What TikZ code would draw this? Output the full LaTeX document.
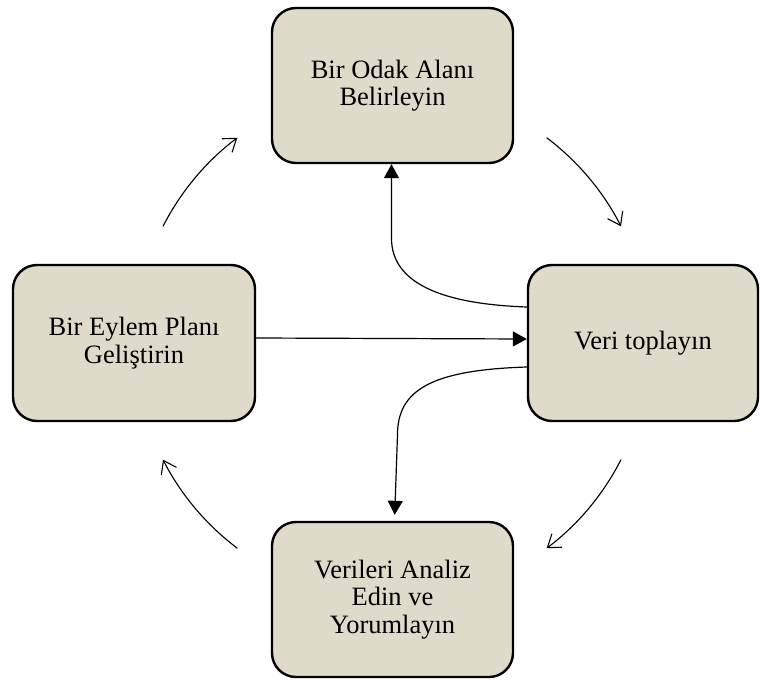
\documentclass[tikz,border=0pt]{standalone}
\usepackage{fontspec}
\setmainfont{Liberation Serif}
\usetikzlibrary{arrows.meta,calc}
\definecolor{boxfill}{RGB}{222,219,202}
\begin{document}
\begin{tikzpicture}[x=1pt,y=-1pt,
  stagebox/.style={draw=black, line width=2.4pt, fill=boxfill, rounded corners=24pt,
    minimum width=241pt, minimum height=155pt, align=center, inner sep=0pt,
    font=\fontsize{26.5}{27.4}\selectfont},
  link/.style={line width=1.2pt, -{Triangle[length=14pt,width=15pt]}},
  cyclearrow/.style={line width=1.1pt, -{Straight Barb[length=12pt,width=17pt,line width=1.1pt]}}]
  \useasboundingbox (0,0) rectangle (760,680);

  % the four stages
  \node[stagebox] (T) at (392.5,85.5) {Bir Odak Alanı\\Belirleyin};
  \node[stagebox, minimum width=230pt, minimum height=156pt] (R) at (643,343) {Veri toplayın};
  \node[stagebox, minimum width=242pt, minimum height=156pt] (L) at (134,343) {Bir Eylem Planı\\Geliştirin};
  \node[stagebox] (B) at (392.5,599.5) {Verileri Analiz\\Edin ve\\Yorumlayın};

  % links between the stages
  \draw[link] ([yshift=5pt]L.east) -- ([yshift=4pt]R.west);
  \draw[link] ([yshift=36pt]R.west) .. controls +(-85,-3) and +(0,45) .. ($(T.south)+(-1,74)$) -- ([xshift=-1pt]T.south);
  \draw[link, shorten >=6pt] ([yshift=-24pt]R.west) .. controls +(-95,3) and +(0,-45) .. ($(B.north)+(5,-86)$) -- ([xshift=2pt]B.north);

  % clockwise cycle arcs around the centre
  \coordinate (C) at (392,343);
  \draw[cyclearrow] (C) ++(-53:257) arc[start angle=-53, end angle=-27, radius=257];
  \draw[cyclearrow] (C) ++(27:257) arc[start angle=27, end angle=53, radius=257];
  \draw[cyclearrow] (C) ++(127:257) arc[start angle=127, end angle=153, radius=257];
  \draw[cyclearrow] (C) ++(207:257) arc[start angle=207, end angle=233, radius=257];
\end{tikzpicture}
\end{document}
